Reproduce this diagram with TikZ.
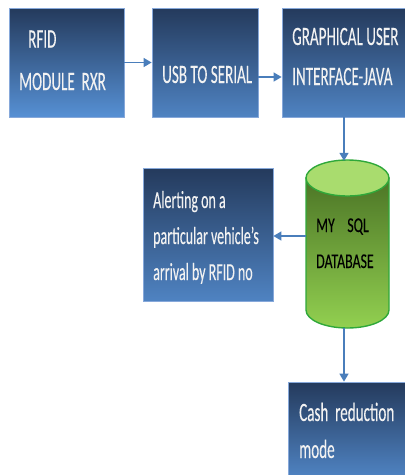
\documentclass[tikz,border=0pt]{standalone}
\usepackage{fontspec}
\setmainfont{Carlito}[FakeStretch=0.57,FakeBold=0.15]
\newfontfamily\dbfont{Carlito}[FakeStretch=0.66,FakeBold=0.15]
\usetikzlibrary{arrows.meta}
\definecolor{boxtop}{HTML}{243A5C}
\definecolor{boxbot}{HTML}{4F83C2}
\definecolor{boxbotb}{HTML}{5690D4}
\definecolor{boxedge}{HTML}{86A8DA}
\definecolor{arrowc}{HTML}{4A7EBB}
\definecolor{dbtop}{HTML}{A9DC6E}
\definecolor{dbdark}{HTML}{4C7526}
\definecolor{dblight}{HTML}{92D050}
\definecolor{dbedge}{HTML}{2FA83A}
\definecolor{txt}{HTML}{F2F2F2}
\tikzset{
  blockbox/.style={draw=boxedge, line width=0.8pt, top color=boxtop, bottom color=boxbot, inner sep=0pt},
  lbl/.style={anchor=base west, inner sep=0pt, text=txt, font=\fontsize{26.5}{30}\selectfont},
  smlbl/.style={lbl, font=\fontsize{24.5}{28}\selectfont},
  dblbl/.style={anchor=base west, inner sep=0pt, text=black, font=\dbfont\fontsize{21}{24}\selectfont},
  arr/.style={draw=arrowc, line width=1.6pt, -{Triangle[length=8pt,width=9pt]}},
}
\begin{document}
\begin{tikzpicture}[x=1pt,y=-1pt]
\useasboundingbox (0,0) rectangle (405,475);
% boxes
\node[blockbox, bottom color=boxbotb, minimum width=115pt, minimum height=109pt] (box1) at (66.5,62.5) {};
\node[blockbox, minimum width=106pt, minimum height=109pt] (box2) at (205,62.5) {};
\node[blockbox, minimum width=126pt, minimum height=109pt] (box3) at (345,62.5) {};
\node[blockbox, minimum width=130pt, minimum height=133pt] (box5) at (208,234.5) {};
\node[blockbox, minimum width=120pt, minimum height=95pt] (box4) at (348,429.5) {};
% cylinder
\node[minimum width=83pt, minimum height=168pt, inner sep=0pt] (db) at (347.5,244) {};
\shade[top color=dbdark, bottom color=dblight, draw=dbedge, line width=1.4pt]
  (306,178) -- (306,310) arc[start angle=180, end angle=360, x radius=41.5pt, y radius=18pt] -- (389,178) -- cycle;
\filldraw[fill=dbtop, draw=dbedge, line width=1.4pt] (347.5,178) ellipse[x radius=41.5pt, y radius=18pt];
% texts
\node[lbl] (t1a) at (28,47.5) {RFID};
\node[lbl] (t1b) at (19,90) {MODULE\ \ RXR};
\node[lbl] (t2) at (162,83) {USB TO SERIAL};
\node[lbl] (t3a) at (292,45) {GRAPHICAL USER};
\node[lbl] (t3b) at (292,85) {INTERFACE-JAVA};
\node[smlbl] (t5a) at (153,208) {Alerting on a};
\node[smlbl] (t5b) at (153,244) {particular vehicle’s};
\node[smlbl] (t5c) at (153,280) {arrival by RFID no};
\node[dblbl] (t6a) at (316,232) {MY\ \ \ \ SQL};
\node[dblbl] (t6b) at (316,268) {DATABASE};
\node[lbl] (t4a) at (299,421) {Cash\ \ reduction};
\node[lbl] (t4b) at (299,458) {mode};
% connectors
\draw[arr] (box1.east) -- (box2.west);
\draw[arr] ([yshift=-14.5pt]box2.east) -- ([yshift=-14.5pt]box3.west);
\draw[arr] ([xshift=-1pt]box3.south) -- ([xshift=-3.5pt,yshift=-1pt]db.north);
\draw[arr] ([yshift=8pt]db.west) -- ([yshift=-1.5pt]box5.east);
\draw[arr] ([xshift=-3.5pt]db.south) -- ([xshift=-4pt]box4.north);
\end{tikzpicture}
\end{document}
